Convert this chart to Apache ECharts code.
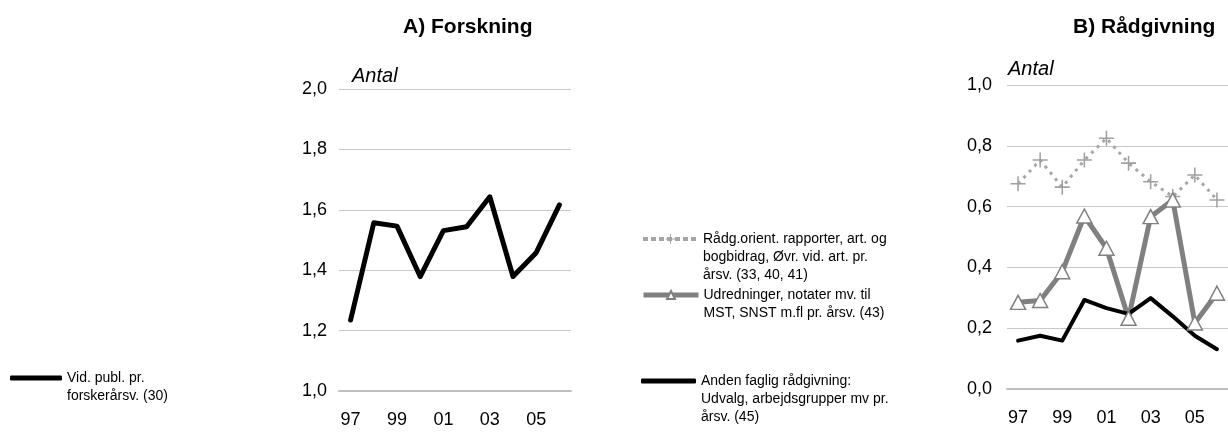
<!DOCTYPE html>
<html>
<head>
<meta charset="utf-8">
<script src="https://cdn.jsdelivr.net/npm/echarts@6/dist/echarts.min.js"></script>
<style>
  html, body { margin: 0; padding: 0; background: #fff; }
  #chart { width: 1228px; height: 432px; }
</style>
</head>
<body>
<div id="chart"></div>
<script>
// år (1997-2006)
var years = ['97', '98', '99', '00', '01', '02', '03', '04', '05', '06'];

// A) Forskning
var vidPubl = [1.235, 1.557, 1.546, 1.379, 1.531, 1.544, 1.643, 1.379, 1.458, 1.616];

// B) Rådgivning
var raadgOrient = [0.675, 0.753, 0.664, 0.753, 0.825, 0.743, 0.682, 0.633, 0.704, 0.622];
var udredninger = [0.285, 0.291, 0.386, 0.569, 0.463, 0.233, 0.567, 0.622, 0.217, 0.315];
var andenFaglig = [0.159, 0.175, 0.159, 0.293, 0.266, 0.247, 0.299, 0.239, 0.175, 0.131];

var yTicksA = { min: 1.0, max: 2.0, step: 0.2 };
var yTicksB = { min: 0.0, max: 1.0, step: 0.2 };

var names = {
  vid: 'Vid. publ. pr.\nforskerårsv. (30)',
  raadg: 'Rådg.orient. rapporter, art. og\nbogbidrag, Øvr. vid. art. pr.\nårsv. (33, 40, 41)',
  udred: 'Udredninger, notater mv. til\nMST, SNST m.fl pr. årsv. (43)',
  anden: 'Anden faglig rådgivning:\nUdvalg, arbejdsgrupper mv pr.\nårsv. (45)'
};

var FONT = '"Liberation Sans", Arial, sans-serif';
var plusPath = 'path://M7,0h1.6v7h7v1.6h-7v7h-1.6v-7h-7v-1.6h7z';

function comma(v) { return v.toFixed(1).replace('.', ','); }

function xAxisFor(idx) {
  return {
    type: 'category', gridIndex: idx, data: years, boundaryGap: true,
    axisLine: { lineStyle: { color: '#bfbfbf', width: 2 } },
    axisTick: { show: false },
    axisLabel: { interval: 1, margin: 20, color: '#000', fontSize: 18, fontFamily: FONT }
  };
}
function yAxisFor(idx, t, gap, pad) {
  return {
    type: 'value', gridIndex: idx, min: t.min, max: t.max, interval: t.step,
    name: 'Antal', nameLocation: 'end', nameGap: gap,
    nameTextStyle: { fontStyle: 'italic', fontSize: 20, color: '#000', fontFamily: FONT, align: 'left', padding: [0, 0, 0, pad] },
    axisLine: { show: false }, axisTick: { show: false },
    axisLabel: { margin: idx === 0 ? 12 : 15, color: '#000', fontSize: 18, fontFamily: FONT, formatter: comma },
    splitLine: { lineStyle: { color: '#c8c8c8', width: 1 } }
  };
}

// one legend per entry, icon lined up with the first text line
function legendFor(name, left, iconY, lines, extra) {
  var h = (2 * lines - 1) * 18;
  var lg = {
    data: [name], left: left, top: iconY - h / 2, padding: 0,
    itemWidth: 55, itemHeight: 10, selectedMode: false,
    formatter: function (n) { return new Array(lines).join('\n') + n; },
    textStyle: { fontSize: 14, lineHeight: 18, color: '#000', fontFamily: FONT }
  };
  for (var k in extra) lg[k] = extra[k];
  return lg;
}
var blackIcon = { icon: 'roundRect', itemHeight: 5, itemStyle: { color: '#000' } };

var chart = echarts.init(document.getElementById('chart'));
chart.setOption({
  animation: false,
  backgroundColor: '#fff',
  title: [
    { text: 'A) Forskning', left: 398, top: 12, textStyle: { fontSize: 21, fontWeight: 'bold', color: '#000', fontFamily: FONT } },
    { text: 'B) Rådgivning', left: 1068, top: 12, textStyle: { fontSize: 21, fontWeight: 'bold', color: '#000', fontFamily: FONT } }
  ],
  grid: [
    { left: 339, top: 89, width: 232, height: 302 },
    { left: 1007, top: 85, width: 225, height: 304 }
  ],
  legend: [
    legendFor(names.vid, 10, 378, 2, Object.assign({ itemWidth: 52 }, blackIcon)),
    legendFor(names.raadg, 641, 239, 3, { itemHeight: 12, lineStyle: { width: 4, type: [5, 3] } }),
    legendFor(names.udred, 641, 295, 2, { lineStyle: { width: 5 } }),
    legendFor(names.anden, 641, 381, 3, blackIcon)
  ],
  xAxis: [xAxisFor(0), xAxisFor(1)],
  yAxis: [yAxisFor(0, yTicksA, 3, 13), yAxisFor(1, yTicksB, 6, 1)],
  series: [
    {
      name: names.vid, type: 'line', xAxisIndex: 0, yAxisIndex: 0, data: vidPubl,
      symbol: 'none', lineStyle: { color: '#000', width: 5, cap: 'round', join: 'round' },
      itemStyle: { color: '#000' }
    },
    {
      name: names.raadg, type: 'line', xAxisIndex: 1, yAxisIndex: 1, data: raadgOrient,
      symbol: plusPath, symbolSize: 15, symbolKeepAspect: true, showAllSymbol: true, clip: false,
      lineStyle: { color: '#a6a6a6', width: 3, type: [3, 5] },
      itemStyle: { color: '#a0a0a0' }
    },
    {
      name: names.udred, type: 'line', xAxisIndex: 1, yAxisIndex: 1, data: udredninger,
      symbol: 'triangle', symbolSize: [15, 14], showAllSymbol: true,
      lineStyle: { color: '#808080', width: 5, join: 'round' },
      itemStyle: { color: '#fff', borderColor: '#808080', borderWidth: 1.5 }
    },
    {
      name: names.anden, type: 'line', xAxisIndex: 1, yAxisIndex: 1, data: andenFaglig,
      symbol: 'none', lineStyle: { color: '#000', width: 4, cap: 'round', join: 'round' },
      itemStyle: { color: '#000' }
    }
  ]
});
</script>
</body>
</html>
